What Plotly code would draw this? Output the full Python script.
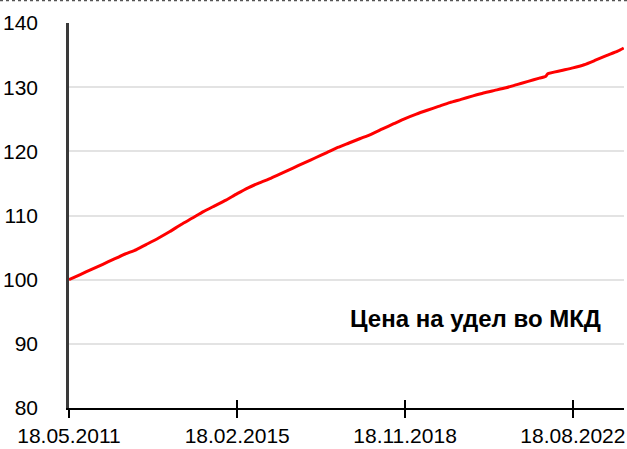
import plotly.graph_objects as go

dates = [
    "2011-05-18", "2011-08-18", "2011-11-18", "2012-02-18", "2012-05-18", "2012-08-18",
    "2012-11-18", "2013-02-18", "2013-05-18", "2013-08-18", "2013-11-18", "2014-02-18",
    "2014-05-18", "2014-08-18", "2014-11-18", "2015-02-18", "2015-05-18", "2015-08-18",
    "2015-11-18", "2016-02-18", "2016-05-18", "2016-08-18", "2016-11-18", "2017-02-18",
    "2017-05-18", "2017-08-18", "2017-11-18", "2018-02-18", "2018-05-18", "2018-08-18",
    "2018-11-18", "2019-02-18", "2019-05-18", "2019-08-18", "2019-11-18", "2020-02-18",
    "2020-05-18", "2020-08-18", "2020-11-18", "2021-02-18", "2021-05-18", "2021-08-18",
    "2021-11-18", "2022-01-10", "2022-01-25", "2022-05-18", "2022-08-18", "2022-11-18",
    "2023-02-18", "2023-05-18", "2023-08-18", "2023-10-07",
]
price = [
    100.0, 100.8, 101.6, 102.4, 103.2, 104.0,
    104.7, 105.6, 106.5, 107.5, 108.6, 109.6,
    110.6, 111.5, 112.4, 113.4, 114.3, 115.1,
    115.8, 116.6, 117.4, 118.2, 119.0, 119.8,
    120.6, 121.3, 122.0, 122.7, 123.5, 124.3,
    125.1, 125.8, 126.4, 127.0, 127.6, 128.1,
    128.6, 129.1, 129.5, 129.9, 130.4, 130.9,
    131.4, 131.7, 132.1, 132.6, 133.0, 133.5,
    134.2, 134.9, 135.6, 136.1,
]
tick_vals = ["2011-05-18", "2015-02-18", "2018-11-18", "2022-08-18"]
tick_text = ["18.05.2011", "18.02.2015", "18.11.2018", "18.08.2022"]
x_range = ["2011-05-18", "2023-10-09"]
y_ticks = [80, 90, 100, 110, 120, 130, 140]
label = "Цена на удел во МКД"

FONT = "Liberation Sans, Arial, sans-serif"

fig = go.Figure()
fig.add_trace(go.Scatter(x=dates, y=price, mode="lines",
                         line=dict(color="#ff0000", width=3, shape="spline", smoothing=0.6),
                         hoverinfo="skip"))
# invisible trace to activate overlay axis with inside ticks
fig.add_trace(go.Scatter(x=dates, y=price, mode="lines", xaxis="x2",
                         line=dict(width=0), opacity=0, hoverinfo="skip"))

fig.update_layout(
    width=627, height=449,
    margin=dict(l=69, r=3, t=23, b=41),
    paper_bgcolor="white", plot_bgcolor="white",
    showlegend=False,
    font=dict(family=FONT, size=21, color="#000000"),
    xaxis=dict(
        type="date", range=x_range, automargin=False,
        tickvals=tick_vals, ticktext=tick_text,
        ticks="outside", ticklen=8, tickwidth=2, tickcolor="#000000",
        showline=True, linecolor="#000000", linewidth=2,
        showgrid=False, zeroline=False,
        tickfont=dict(family=FONT, size=21, color="#000000"),
    ),
    xaxis2=dict(
        type="date", range=x_range, overlaying="x", anchor="y", side="bottom",
        tickvals=tick_vals, showticklabels=False, automargin=False,
        ticks="inside", ticklen=8, tickwidth=2, tickcolor="#000000",
        showline=False, showgrid=False, zeroline=False,
    ),
    yaxis=dict(
        range=[80, 140], tickvals=y_ticks, automargin=False,
        showline=True, linecolor="#3a3a3a", linewidth=2.5,
        showgrid=True, gridcolor="#e3e3e3", gridwidth=1.5,
        ticks="", zeroline=False, ticklabelstandoff=24,
        tickfont=dict(family=FONT, size=21, color="#000000"),
    ),
    annotations=[dict(
        text="<b>" + label + "</b>", xref="paper", yref="y",
        x=0.962, y=94.0, xanchor="right", yanchor="middle",
        showarrow=False, font=dict(family=FONT, size=24, color="#000000"),
    )],
    shapes=[dict(
        type="line", xref="paper", yref="paper", x0=-0.2, x1=1.1,
        y0=1 + 22.5 / 385, y1=1 + 22.5 / 385,
        line=dict(color="#555555", width=1.5, dash="dot"),
    )],
)

fig.write_html("out.html")
